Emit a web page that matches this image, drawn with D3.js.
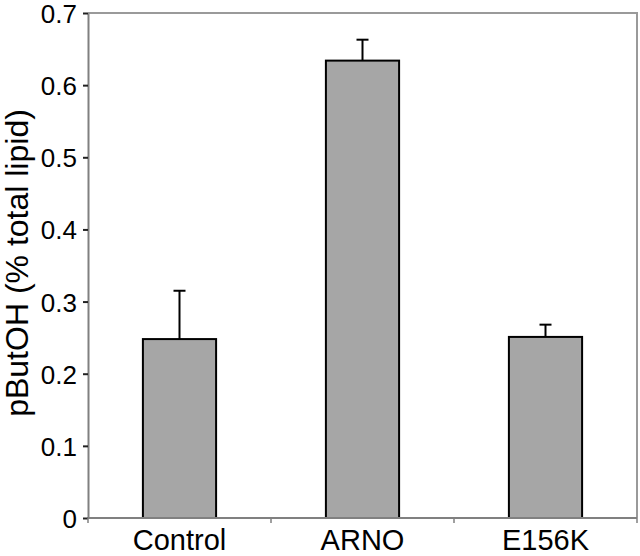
<!DOCTYPE html>
<html><head><meta charset="utf-8">
<script src="https://d3js.org/d3.v7.min.js"></script>
<style>body{margin:0;background:#fff}svg{display:block}text{font-family:"Liberation Sans",Arial,sans-serif;fill:#000}</style>
</head><body><svg id="c" width="640" height="556"></svg>
<script>
const categories = ["Control", "ARNO", "E156K"];
const values = [0.248, 0.634, 0.251];
const errors = [0.067, 0.029, 0.017];
const yTicks = [0, 0.1, 0.2, 0.3, 0.4, 0.5, 0.6, 0.7];
const yTickLabels = ["0", "0.1", "0.2", "0.3", "0.4", "0.5", "0.6", "0.7"];
const yLabel = "pButOH (% total lipid)";

const svg = d3.select("#c");
const L = 88, R = 637, T = 13, B = 518;
const x = d3.scaleBand().domain(categories).range([L, R]).paddingInner(0.6).paddingOuter(0.3);
const y = d3.scaleLinear().domain([0, 0.7]).range([B, T]);

// frame top/right
svg.append("path").attr("d", `M${L},${T}H${R}V${B}`).attr("fill", "none").attr("stroke", "#9a9a9a").attr("stroke-width", 2);

// bars
svg.selectAll("rect.bar").data(categories).join("rect").attr("class", "bar")
  .attr("x", d => x(d)).attr("width", x.bandwidth())
  .attr("y", (d, i) => y(values[i])).attr("height", (d, i) => y(0) - y(values[i]))
  .attr("fill", "#a6a6a6").attr("stroke", "#000").attr("stroke-width", 2);

// error bars
const eg = svg.selectAll("g.err").data(categories).join("g").attr("class", "err");
eg.append("line").attr("x1", d => x(d) + x.bandwidth() / 2).attr("x2", d => x(d) + x.bandwidth() / 2)
  .attr("y1", (d, i) => y(values[i])).attr("y2", (d, i) => y(values[i] + errors[i]))
  .attr("stroke", "#000").attr("stroke-width", 2);
eg.append("line").attr("x1", d => x(d) + x.bandwidth() / 2 - 6).attr("x2", d => x(d) + x.bandwidth() / 2 + 6)
  .attr("y1", (d, i) => y(values[i] + errors[i])).attr("y2", (d, i) => y(values[i] + errors[i]))
  .attr("stroke", "#000").attr("stroke-width", 2);

// y axis
const ya = svg.append("g").attr("transform", `translate(${L},0)`)
  .call(d3.axisLeft(y).tickValues(yTicks).tickFormat((d, i) => yTickLabels[i]).tickSize(5).tickSizeOuter(0));
ya.attr("font-size", null).attr("font-family", null);
ya.select(".domain").attr("stroke", "#808080").attr("stroke-width", 2);
ya.selectAll(".tick line").attr("stroke", "#222").attr("stroke-width", 2);
ya.selectAll(".tick text").attr("x", -11).attr("dy", null).attr("y", 9.5).attr("text-anchor", "end")
  .style("font-size", "26px");

// x axis
const bounds = d3.range(categories.length + 1).map(i => L + i * x.step());
const xa = svg.append("g");
xa.append("line").attr("x1", L).attr("x2", R).attr("y1", B).attr("y2", B).attr("stroke", "#808080").attr("stroke-width", 2);
xa.selectAll("line.t").data(bounds).join("line").attr("class", "t")
  .attr("x1", d => d).attr("x2", d => d).attr("y1", B).attr("y2", B + 5).attr("stroke", "#808080").attr("stroke-width", 1.5);
xa.selectAll("text").data(categories).join("text")
  .attr("text-anchor", "middle").style("font-size", "29px")
  .attr("x", d => x(d) + x.bandwidth() / 2).attr("y", 550).text(d => d);

// y label
svg.append("text").attr("text-anchor", "middle").style("font-size", "32px")
  .attr("transform", `translate(28,263) rotate(-90)`).text(yLabel);
</script></body></html>
